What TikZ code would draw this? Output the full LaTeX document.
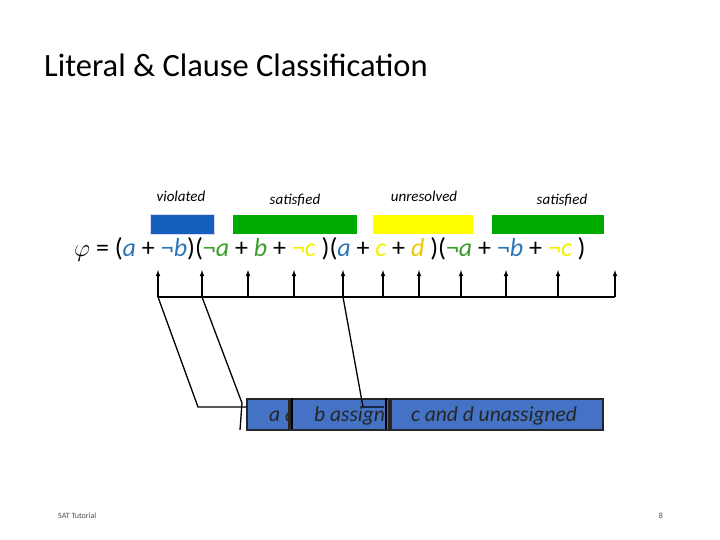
\documentclass[tikz,border=0pt]{standalone}
\usepackage{fontspec}
\setmainfont{Carlito}
\begin{document}
\begin{tikzpicture}[x=1pt,y=-1pt,
  lbl/.style={font=\itshape\fontsize{15}{18}\selectfont,anchor=base},
  bar/.style={draw=blue!15,line width=1pt},
  ptr/.style={line width=1.3pt},
  arr/.style={-latex,line width=1.1pt},
  cell/.style={draw=black!85,line width=2pt,fill=cb},
  ct/.style={font=\itshape\fontsize{21.5}{24}\selectfont,text=black!85},
  ]
\definecolor{cb}{HTML}{4472C4}
\definecolor{vb}{HTML}{1560BD}
\definecolor{sg}{HTML}{00AA00}
\definecolor{uy}{HTML}{FFFF00}
\definecolor{tb}{HTML}{2E75B6}
\definecolor{tg}{HTML}{3C9D2C}
\definecolor{ty}{HTML}{F2F200}
\definecolor{td}{HTML}{E8C800}
\useasboundingbox (0,0) rectangle (720,540);
\node[anchor=base west,inner sep=0,font=\fontsize{32.5}{36}\selectfont] (title) at (44,77) {Literal \& Clause Classification};
\node[lbl] (l1) at (181,202) {violated};
\node[lbl] (l2) at (295,205) {satisfied};
\node[lbl] (l3) at (424,202) {unresolved};
\node[lbl] (l4) at (562,205) {satisfied};
\fill[vb] (150,215) rectangle (214,234); \draw[bar] (150,215) rectangle (214,234);
\fill[sg] (233,215) rectangle (357,234);
\fill[uy] (373,215) rectangle (473,234);
\fill[sg] (492,215) rectangle (604,234);
\node[anchor=base west,inner sep=0,font=\fontsize{26}{30}\selectfont] (f) at (74,256)
 {$\varphi$ = (\textcolor{tb}{\itshape a} + \textcolor{tb}{¬\itshape b})(\textcolor{tg}{¬\itshape a} + \textcolor{tg}{\itshape b} + \textcolor{ty}{¬\itshape c} )(\textcolor{tb}{\itshape a} + \textcolor{ty}{\itshape c} + \textcolor{td}{\itshape d} )(\textcolor{tg}{¬\itshape a} + \textcolor{tb}{¬\itshape b} + \textcolor{ty}{¬\itshape c} )};
\coordinate (hl) at (158,297); \coordinate (hr) at (615,297);
\draw[line width=1.3pt] (hl) -- (hr);
\foreach \x in {158,202,248,294,343,383,419,461,506,558,615}
  \draw[arr] (\x,297) -- (\x,270);
% cells
\node[cell,minimum width=42,minimum height=31,anchor=north west,inner sep=0] (c1) at (246,398) {};
\node[cell,minimum width=99,minimum height=31,anchor=north west,inner sep=0] (c2) at (289,398) {};
\node[cell,minimum width=212,minimum height=31,anchor=north west,inner sep=0] (c3) at (390,398) {};
\begin{scope}
\clip (247,399) rectangle (288,428);
\node[ct,anchor=base west,inner sep=0] (t1) at (269,421) {a assigned};
\end{scope}
\begin{scope}
\clip (293,399) rectangle (386,428);
\node[ct,anchor=base west,inner sep=0] (t2) at (314,421) {b assigned};
\end{scope}
\node[ct,anchor=base,inner sep=0] (t3) at (494,421) {c and d unassigned};
\draw[line width=1.5pt] (292,398) -- (292,429);
\draw[line width=1.5pt] (386,398) -- (386,429);
% pointers
\coordinate (p1) at (198,407); \coordinate (p1e) at (247,407);
\draw[ptr] (hl) -- (p1) -- (p1e);
\coordinate (p2) at (242,403); \coordinate (p2e) at (240,430);
\draw[ptr] (202,297) -- (p2) -- (p2e);
\coordinate (p3) at (363,407); \coordinate (p3e) at (384,407);
\draw[ptr] (343,297) -- (p3) -- (p3e);
\node[anchor=base west,inner sep=0,font=\fontsize{8}{9}\selectfont,text=black!70] (foot) at (58,518) {SAT Tutorial};
\node[anchor=base,inner sep=0,font=\fontsize{8}{9}\selectfont,text=black!70] (pg) at (661,518) {8};
\end{tikzpicture}
\end{document}
